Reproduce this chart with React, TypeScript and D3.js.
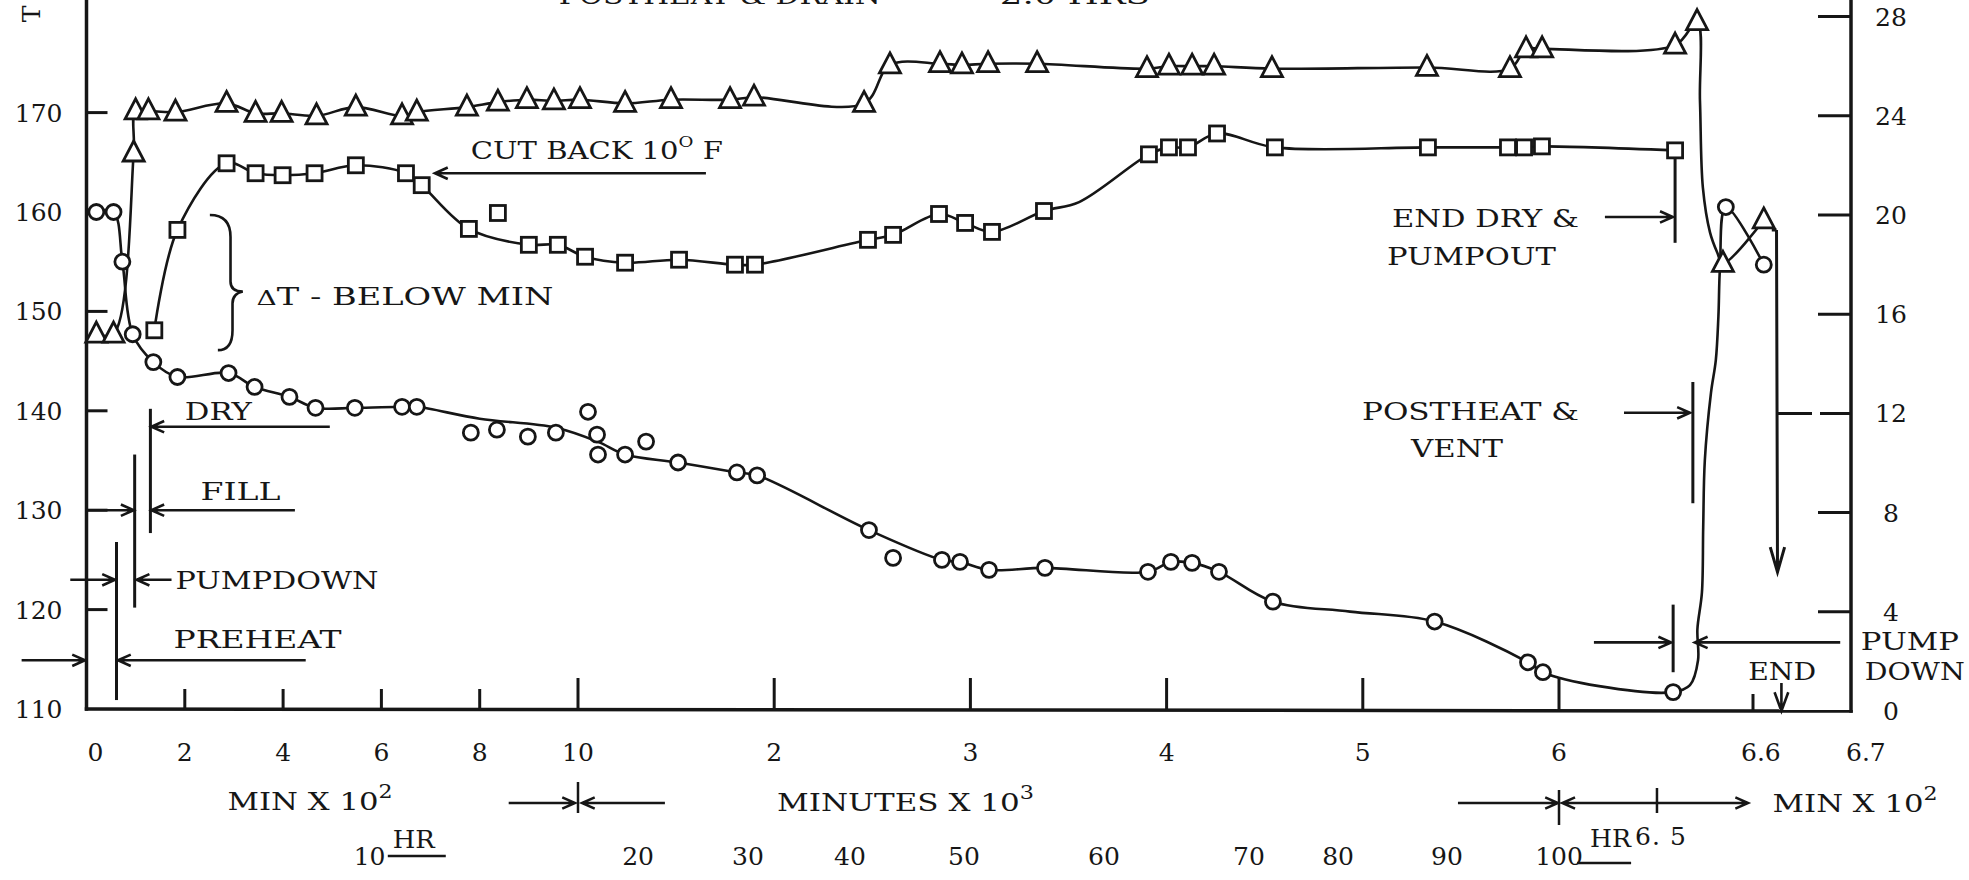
import React from 'react';
import * as d3 from 'd3';

type Pt = [number, number, string];

// time (minutes), value; 'p' = marker on curve, 'o' = marker off curve, 'g' = curve only
// ΔT below min, read on the right axis
const deltaT: Pt[] = [
  [20, 15.2, 'p'], [55, 15.2, 'p'], [96, 22.5, 'p'], [100, 24.2, 'p'], [126, 24.2, 'p'], [181, 24.15, 'p'],
  [285, 24.5, 'p'], [344, 24.1, 'p'], [397, 24.1, 'p'], [468, 24.0, 'p'], [548, 24.35, 'p'], [642, 24.0, 'p'],
  [672, 24.15, 'p'], [774, 24.35, 'p'], [837, 24.55, 'p'], [896, 24.65, 'p'], [951, 24.6, 'p'], [1010, 24.65, 'p'],
  [1240, 24.5, 'p'], [1474, 24.65, 'p'], [1775, 24.65, 'p'], [1897, 24.75, 'p'], [2458, 24.5, 'p'], [2590, 26.05, 'p'],
  [2845, 26.1, 'p'], [2957, 26.05, 'p'], [3090, 26.1, 'p'], [3340, 26.1, 'p'], [3900, 25.9, 'p'], [4012, 26.0, 'p'],
  [4130, 26.0, 'p'], [4242, 26.0, 'p'], [4537, 25.9, 'p'], [5327, 25.95, 'p'], [5750, 25.9, 'p'], [5832, 26.7, 'p'],
  [5914, 26.7, 'p'], [6359, 26.85, 'p'], [6427, 27.8, 'p'], [6436, 24.6, 'g'], [6445, 21.1, 'g'], [6467, 19.3, 'g'],
  [6489, 18.5, 'g'], [6507, 18.05, 'p'], [6611, 19.8, 'p'],
];

// squares, °F on the left axis
const tempSquare: Pt[] = [
  [138, 148.1, 'p'], [185, 158.2, 'p'], [285, 164.9, 'p'], [344, 163.9, 'p'], [399, 163.7, 'p'], [464, 163.9, 'p'],
  [548, 164.7, 'p'], [650, 163.9, 'p'], [682, 162.7, 'p'], [778, 158.3, 'p'], [837, 159.9, 'o'], [900, 156.7, 'p'],
  [959, 156.7, 'p'], [1036, 155.5, 'p'], [1240, 154.9, 'p'], [1515, 155.2, 'p'], [1800, 154.7, 'p'], [1902, 154.7, 'p'],
  [2478, 157.2, 'p'], [2606, 157.7, 'p'], [2840, 159.8, 'p'], [2973, 158.9, 'p'], [3110, 158.0, 'p'], [3375, 160.1, 'p'],
  [3554, 161.0, 'g'], [3910, 165.8, 'p'], [4012, 166.5, 'p'], [4109, 166.5, 'p'], [4257, 167.9, 'p'], [4552, 166.5, 'p'],
  [5332, 166.5, 'p'], [5740, 166.5, 'p'], [5822, 166.5, 'p'], [5913, 166.6, 'p'], [6359, 166.2, 'p'],
];

// circles, °F on the left axis
const tempCircle: Pt[] = [
  [20, 160.0, 'p'], [55, 160.0, 'p'], [73, 155.0, 'p'], [94, 147.7, 'p'], [136, 144.9, 'p'], [185, 143.4, 'p'],
  [289, 143.8, 'p'], [342, 142.4, 'p'], [413, 141.4, 'p'], [466, 140.3, 'p'], [546, 140.3, 'p'], [642, 140.4, 'p'],
  [672, 140.4, 'p'], [782, 137.8, 'o'], [800, 139.2, 'g'], [835, 138.1, 'o'], [898, 137.4, 'o'], [955, 138.3, 'g'],
  [955, 137.8, 'o'], [1051, 139.9, 'o'], [1097, 137.6, 'o'], [1100, 136.9, 'g'], [1102, 135.6, 'o'], [1240, 135.6, 'p'],
  [1347, 136.9, 'o'], [1510, 134.8, 'p'], [1810, 133.8, 'p'], [1913, 133.5, 'p'], [2483, 128.0, 'p'], [2606, 125.2, 'o'],
  [2855, 125.0, 'p'], [2947, 124.8, 'p'], [3095, 124.0, 'p'], [3380, 124.2, 'p'], [3905, 123.8, 'p'], [4022, 124.8, 'p'],
  [4130, 124.7, 'p'], [4267, 123.8, 'p'], [4542, 120.8, 'p'], [4935, 119.8, 'g'], [5366, 118.8, 'p'], [5842, 114.7, 'p'],
  [5918, 113.7, 'p'], [6124, 112.3, 'g'], [6353, 111.7, 'p'], [6405, 112.4, 'g'], [6430, 114.9, 'g'], [6428, 118.0, 'g'],
  [6442, 121.7, 'g'], [6446, 128.3, 'g'], [6451, 135.0, 'g'], [6470, 141.8, 'g'], [6485, 145.1, 'g'], [6493, 149.5, 'g'],
  [6498, 154.5, 'g'], [6516, 160.5, 'p'], [6611, 154.7, 'p'],
];

const leftTicks = [110, 120, 130, 140, 150, 160, 170];
const rightTicks = [0, 4, 8, 12, 16, 20, 24, 28];
const minorTicks = [200, 400, 600, 800];
const majorTicks = [1000, 2000, 3000, 4000, 5000, 6000];
const shortTicks = [6600];
const hundredLabels = [0, 2, 4, 6, 8, 10];
const thousandLabels = [2, 3, 4, 5, 6];
const endLabels = ['6.6', '6.7'];
const hourLabels = [10, 20, 30, 40, 50, 60, 70, 80, 90, 100];
const hourLabelAt = [576, 1306, 1866, 2386, 2967, 3681, 4420, 4874, 5429, 6000];

// phase bars: [minutes, low °F, high °F]
const phaseBars: [number, number, number][] = [
  [61, 110.9, 126.8], [98, 120.2, 135.6], [130, 127.7, 140.2],
  [6359, 156.9, 166.2], [6414, 130.7, 142.9], [6353, 113.7, 120.5],
];
// arrows: [from minutes, to minutes, °F]
const phaseArrows: [number, number, number][] = [
  [495, 132, 138.4], [0, 96, 130], [424, 132, 130], [-33, 58, 123], [173, 102, 123],
  [-132, -3, 114.9], [446, 64, 114.9], [1652, 709, 163.9],
  [6142, 6352, 159.5], [6201, 6405, 139.8], [6108, 6347, 116.7], [6689, 6420, 116.7],
];
// annotation text: [label, minutes, °F baseline]
const notes: [string, number, number][] = [
  ['DRY', 200, 139.1], ['FILL', 232, 131.0], ['PUMPDOWN', 181, 122.1], ['PREHEAT', 177, 116.1],
  ['END DRY &', 5149, 158.5], ['PUMPOUT', 5123, 154.7], ['POSTHEAT &', 4996, 139.1], ['VENT', 5246, 135.4],
  ['END', 6585, 112.9], ['PUMP', 6710, 115.9], ['DOWN', 6714, 112.9],
  ['POSTHEAT & DRAIN', 961, 180.9], ['2.0 HRS', 3150, 180.9],
];
const noteWidths = [67, 80, 203, 168, 187, 169, 217, 92, 68, 98, 100, 322, 150];

const INK = '#161616';
const FONT = '"DejaVu Serif", "Liberation Serif", serif';

const x = d3.scaleLinear().domain([0, 1000, 6000, 6600, 6700]).range([86.5, 578, 1559, 1753, 1851]);
const yL = d3.scaleLinear().domain([110, 180]).range([709, 13.2]);
const yR = d3.scaleLinear().domain([0, 28]).range([711, 16.6]);

function arrow(x1: number, y1: number, x2: number, y2: number, len = 14, spread = 0.42) {
  const a = Math.atan2(y2 - y1, x2 - x1);
  const bx1 = x2 - len * Math.cos(a - spread), by1 = y2 - len * Math.sin(a - spread);
  const bx2 = x2 - len * Math.cos(a + spread), by2 = y2 - len * Math.sin(a + spread);
  return `M${x1},${y1}L${x2},${y2}M${bx1},${by1}L${x2},${y2}L${bx2},${by2}`;
}

export default function App() {
  const lineOf = (ys: d3.ScaleLinear<number, number>) =>
    d3.line<Pt>().x(d => x(d[0])).y(d => ys(d[1])).curve(d3.curveCatmullRom.alpha(0.5));
  const onCurve = (a: Pt[]) => a.filter(d => d[2] !== 'o');
  const marks = (a: Pt[]) => a.filter(d => d[2] !== 'g');

  const axisY = yL(110);
  const axisX0 = x(0);
  const axisX1 = x(6700);

  const tri = (cx: number, cy: number) => `M${cx},${cy - 12}L${cx + 10.5},${cy + 8}L${cx - 10.5},${cy + 8}Z`;

  // brace next to "ΔT - BELOW MIN"
  const bx = x(251), bs = x(293), bt = x(318);
  const bTop = yL(159.7), bMid = yL(152.0), bBot = yL(146.1);
  const brace = `M${bx},${bTop}Q${bs},${bTop} ${bs},${bTop + 22}L${bs},${bMid - 10}Q${bs},${bMid} ${bt},${bMid}` +
    `Q${bs + 2},${bMid + 2} ${bs + 2},${bMid + 12}L${bs + 2},${bBot - 20}Q${bs + 2},${bBot} ${bx + 8},${bBot}`;

  const lastTri = deltaT[deltaT.length - 1];

  return (
    <svg width={1969} height={880} style={{ position: 'absolute', left: 0, top: 0, background: '#ffffff' }}
      fontFamily={FONT} fill={INK}>
      <rect width={1969} height={880} fill="#ffffff" />

      {/* axes */}
      <g stroke={INK} strokeWidth={3.5} strokeLinecap="square">
        <line x1={axisX0} y1={0} x2={axisX0} y2={axisY} />
        <line x1={axisX1} y1={0} x2={axisX1} y2={yR(0)} />
        <line x1={axisX0} y1={axisY} x2={axisX1} y2={yR(0)} />
      </g>
      <g stroke={INK} strokeWidth={3}>
        {leftTicks.filter(t => t > 110).map(t => (
          <line key={t} x1={axisX0} x2={axisX0 + 21} y1={yL(t)} y2={yL(t)} />
        ))}
        {rightTicks.filter(t => t > 0 && t !== 12).map(t => (
          <line key={t} x1={axisX1 - 33} x2={axisX1} y1={yR(t)} y2={yR(t)} />
        ))}
        <line x1={axisX1 - 73} x2={axisX1} y1={yR(12)} y2={yR(12)} strokeDasharray="34 8" />
        {minorTicks.map(t => <line key={t} x1={x(t)} x2={x(t)} y1={axisY + 1} y2={axisY - 20} />)}
        {majorTicks.map(t => <line key={t} x1={x(t)} x2={x(t)} y1={axisY + 1} y2={axisY - 31} />)}
        {shortTicks.map(t => <line key={t} x1={x(t)} x2={x(t)} y1={axisY + 2} y2={axisY - 15} />)}
      </g>

      {/* axis labels */}
      <g fontSize={25}>
        {leftTicks.map(t => (
          <text key={t} x={axisX0 - 24} y={yL(t) + 9} textAnchor="end">{t}</text>
        ))}
        {rightTicks.map(t => (
          <text key={t} x={axisX1 + 40} y={yR(t) + 9} textAnchor="middle">{t}</text>
        ))}
        {hundredLabels.map(v => (
          <text key={'h' + v} x={x(v * 100) + (v === 0 ? 1 : 0)} y={axisY + 52}
            textAnchor={v === 0 ? 'start' : 'middle'}>{v}</text>
        ))}
        {thousandLabels.map(v => (
          <text key={'k' + v} x={x(v * 1000)} y={axisY + 52} textAnchor="middle">{v}</text>
        ))}
        {endLabels.map((s, i) => (
          <text key={s} x={x(+s * 1000) - (i === 0 ? 12 : 5)} y={axisY + 52} textAnchor="start">{s}</text>
        ))}
        {hourLabels.map((h, i) => (
          <text key={'hr' + h} x={x(hourLabelAt[i])} y={axisY + 156} textAnchor="middle">{h}</text>
        ))}
        <text transform={`translate(${axisX0 - 47},14) rotate(-90)`} textAnchor="middle">T</text>
      </g>

      {/* unit captions */}
      <g fontSize={25}>
        <text x={x(287)} y={axisY + 101} textLength={165} lengthAdjust="spacingAndGlyphs">
          MIN X 10<tspan dy={-12} fontSize={18}>2</tspan>
        </text>
        <text x={x(2014)} y={axisY + 102} textLength={257} lengthAdjust="spacingAndGlyphs">
          MINUTES X 10<tspan dy={-12} fontSize={18}>3</tspan>
        </text>
        <text x={x(6620)} y={axisY + 103} textLength={165} lengthAdjust="spacingAndGlyphs">
          MIN X 10<tspan dy={-12} fontSize={18}>2</tspan>
        </text>
        <text x={x(623)} y={axisY + 139} textLength={42} lengthAdjust="spacingAndGlyphs">HR</text>
        <text x={x(6096)} y={axisY + 138} textLength={41} lengthAdjust="spacingAndGlyphs">HR</text>
        <text x={x(6235)} y={axisY + 136} textLength={51} lengthAdjust="spacing">6. 5</text>
      </g>
      <g stroke={INK} strokeWidth={2.5} fill="none">
        <line x1={x(613)} x2={x(731)} y1={axisY + 147} y2={axisY + 147} />
        <line x1={x(6056)} x2={x(6223)} y1={axisY + 154} y2={axisY + 154} />
        <path d={arrow(x(859), axisY + 94, x(994), axisY + 94)} />
        <path d={arrow(x(1443), axisY + 94, x(1020), axisY + 94)} />
        <line x1={x(1000)} x2={x(1000)} y1={axisY + 73} y2={axisY + 104} />
        <path d={arrow(x(5485), axisY + 94, x(5995), axisY + 94)} />
        <path d={arrow(x(6303), axisY + 94, x(6010), axisY + 94)} />
        <path d={arrow(x(6303), axisY + 94, x(6585), axisY + 94)} />
        <line x1={x(6000)} x2={x(6000)} y1={axisY + 81} y2={axisY + 116} />
        <line x1={x(6303)} x2={x(6303)} y1={axisY + 79} y2={axisY + 104} />
      </g>

      {/* phase annotations */}
      <g stroke={INK} strokeWidth={3} fill="none">
        {phaseBars.map(([t, lo, hi], i) => (
          <line key={i} x1={x(t)} x2={x(t)} y1={yL(lo)} y2={yL(hi)} />
        ))}
      </g>
      <g stroke={INK} strokeWidth={2.6} fill="none">
        {phaseArrows.map(([a, b, v], i) => (
          <path key={i} d={arrow(x(a), yL(v), x(b), yL(v))} />
        ))}
        <path d={brace} strokeWidth={2.6} />
        <path d={`M${x(lastTri[0]) + 8},${yR(19.4)}L${x(6624)},${yR(19.4)}` + arrow(x(6624), yR(19.4), x(6625), yR(5.6), 26, 0.28)} strokeWidth={3} />
        <path d={arrow(x(6629), axisY - 26, x(6629), axisY + 2, 20, 0.35)} strokeWidth={2.6} />
      </g>
      <g fontSize={24}>
        {notes.map(([s, t, v], i) => (
          <text key={s + i} x={x(t)} y={yL(v)} textLength={noteWidths[i]} lengthAdjust="spacingAndGlyphs">{s}</text>
        ))}
        <text x={x(782)} y={yL(165.3)} textLength={252} lengthAdjust="spacingAndGlyphs">
          CUT BACK 10<tspan dy={-12} fontSize={15}>O</tspan><tspan dy={12}> F</tspan>
        </text>
        <text x={x(346)} y={yL(150.6)} textLength={297} lengthAdjust="spacingAndGlyphs">
          <tspan fontSize={20}>Δ</tspan>T - BELOW MIN
        </text>
      </g>

      {/* series lines */}
      <g fill="none" stroke={INK} strokeWidth={2.6} strokeLinejoin="round">
        <path d={lineOf(yR)(onCurve(deltaT)) || ''} />
        <path d={lineOf(yL)(onCurve(tempSquare)) || ''} />
        <path d={lineOf(yL)(onCurve(tempCircle)) || ''} />
      </g>

      {/* markers */}
      <g fill="#ffffff" stroke={INK} strokeWidth={2.8}>
        {marks(deltaT).map((d, i) => <path key={'t' + i} d={tri(x(d[0]), yR(d[1]))} />)}
        {marks(tempSquare).map((d, i) => (
          <rect key={'s' + i} x={x(d[0]) - 7.5} y={yL(d[1]) - 7.5} width={15} height={15} />
        ))}
        {marks(tempCircle).map((d, i) => <circle key={'c' + i} cx={x(d[0])} cy={yL(d[1])} r={7.5} />)}
      </g>
    </svg>
  );
}
